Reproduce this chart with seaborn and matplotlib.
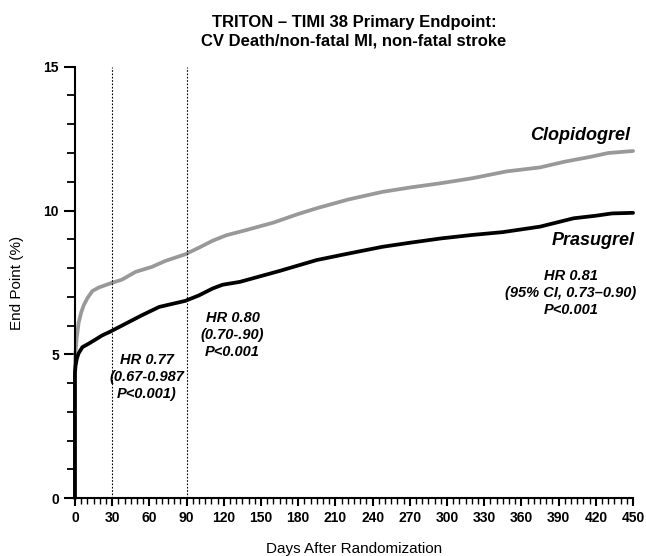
import pandas as pd
import seaborn as sns
import matplotlib
matplotlib.use("Agg")
import matplotlib.pyplot as plt
from matplotlib.ticker import MultipleLocator

# Kaplan-Meier style cumulative event curves
clopi_days = [0, 0, 0.5, 1.5, 3, 5, 7, 10, 14, 19, 28, 38, 49, 62, 73, 89, 100, 111,
              122, 138, 149, 160, 180, 195, 220, 248, 270, 295, 320, 348, 375, 395,
              416, 430, 450]
clopi_pct = [0, 4.5, 5.1, 5.6, 6.1, 6.45, 6.7, 6.95, 7.2, 7.32, 7.46, 7.6, 7.87, 8.04,
             8.25, 8.48, 8.71, 8.95, 9.14, 9.32, 9.45, 9.58, 9.88, 10.08, 10.38, 10.65,
             10.8, 10.95, 11.12, 11.36, 11.5, 11.7, 11.87, 12.0, 12.07]

prasu_days = [0, 0, 0.5, 1.5, 3, 6, 11, 16, 22, 28, 41, 54, 68, 89, 100, 111, 119,
              133, 149, 165, 195, 220, 248, 270, 295, 320, 345, 375, 402, 420, 433, 450]
prasu_pct = [0, 4.35, 4.6, 4.85, 5.04, 5.25, 5.37, 5.5, 5.66, 5.78, 6.07, 6.36, 6.65,
             6.86, 7.05, 7.29, 7.42, 7.52, 7.71, 7.9, 8.28, 8.5, 8.74, 8.88, 9.03, 9.15,
             9.25, 9.44, 9.73, 9.82, 9.9, 9.92]

landmarks = [30, 90]
x_ticks = list(range(0, 451, 30))
y_ticks = [0, 5, 10, 15]

df_c = pd.DataFrame({"day": clopi_days, "pct": clopi_pct})
df_p = pd.DataFrame({"day": prasu_days, "pct": prasu_pct})

sns.set_style("ticks")
plt.rcParams["font.family"] = ["Liberation Sans", "DejaVu Sans"]
plt.rcParams.update({"text.color": "black", "axes.labelcolor": "black",
                     "xtick.color": "black", "ytick.color": "black"})

fig = plt.figure(figsize=(6.46, 5.56), dpi=100)
ax = fig.add_axes([0.116, 0.104, 0.864, 0.776])

sns.lineplot(data=df_c, x="day", y="pct", color="#999999", linewidth=2.7,
             sort=False, estimator=None, ax=ax, clip_on=False)
sns.lineplot(data=df_p, x="day", y="pct", color="black", linewidth=2.7,
             sort=False, estimator=None, ax=ax, clip_on=False)

for d in landmarks:
    ax.axvline(d, color="black", linestyle=(0, (1.5, 1.5)), linewidth=0.8)

ax.set_xlim(0, 450)
ax.set_ylim(0, 15)
ax.set_xticks(x_ticks)
ax.set_yticks(y_ticks)
ax.xaxis.set_minor_locator(MultipleLocator(5))
ax.yaxis.set_minor_locator(MultipleLocator(1))
ax.tick_params(axis="both", which="major", direction="out", width=1.5,
               labelsize=10, colors="black")
ax.tick_params(axis="y", which="major", length=8)
ax.tick_params(axis="y", which="minor", length=6, width=1.3)
ax.tick_params(axis="x", which="major", length=6)
ax.tick_params(axis="x", which="minor", length=4, width=1)
for lab in ax.get_xticklabels() + ax.get_yticklabels():
    lab.set_fontweight("bold")

sns.despine(ax=ax)
for s in ["left", "bottom"]:
    ax.spines[s].set_linewidth(1.5)
    ax.spines[s].set_color("black")

ax.set_xlabel("Days After Randomization", fontsize=11, labelpad=12)
ax.set_ylabel("End Point (%)", fontsize=11, labelpad=14)
ax.set_title("TRITON \u2013 TIMI 38 Primary Endpoint:\nCV Death/non-fatal MI, non-fatal stroke",
             fontsize=12, fontweight="bold", pad=15, linespacing=1.3)

lab_kw = dict(fontstyle="italic", fontweight="bold", ha="center", va="center")
ax.text(407, 12.6, "Clopidogrel", fontsize=13, clip_on=False, **lab_kw)
ax.text(418, 8.97, "Prasugrel", fontsize=13, clip_on=False, **lab_kw)
ax.text(400, 7.13, "HR 0.81\n(95% CI, 0.73\u20130.90)\nP<0.001", fontsize=10.5,
        linespacing=1.3, clip_on=False, **lab_kw)
ax.text(127, 5.67, "HR 0.80\n(0.70-.90)\nP<0.001", fontsize=10.5,
        linespacing=1.3, **lab_kw)
ax.text(58, 4.21, "HR 0.77\n(0.67-0.987\nP<0.001)", fontsize=10.5,
        linespacing=1.3, **lab_kw)

fig.savefig("out.png", dpi=100)
